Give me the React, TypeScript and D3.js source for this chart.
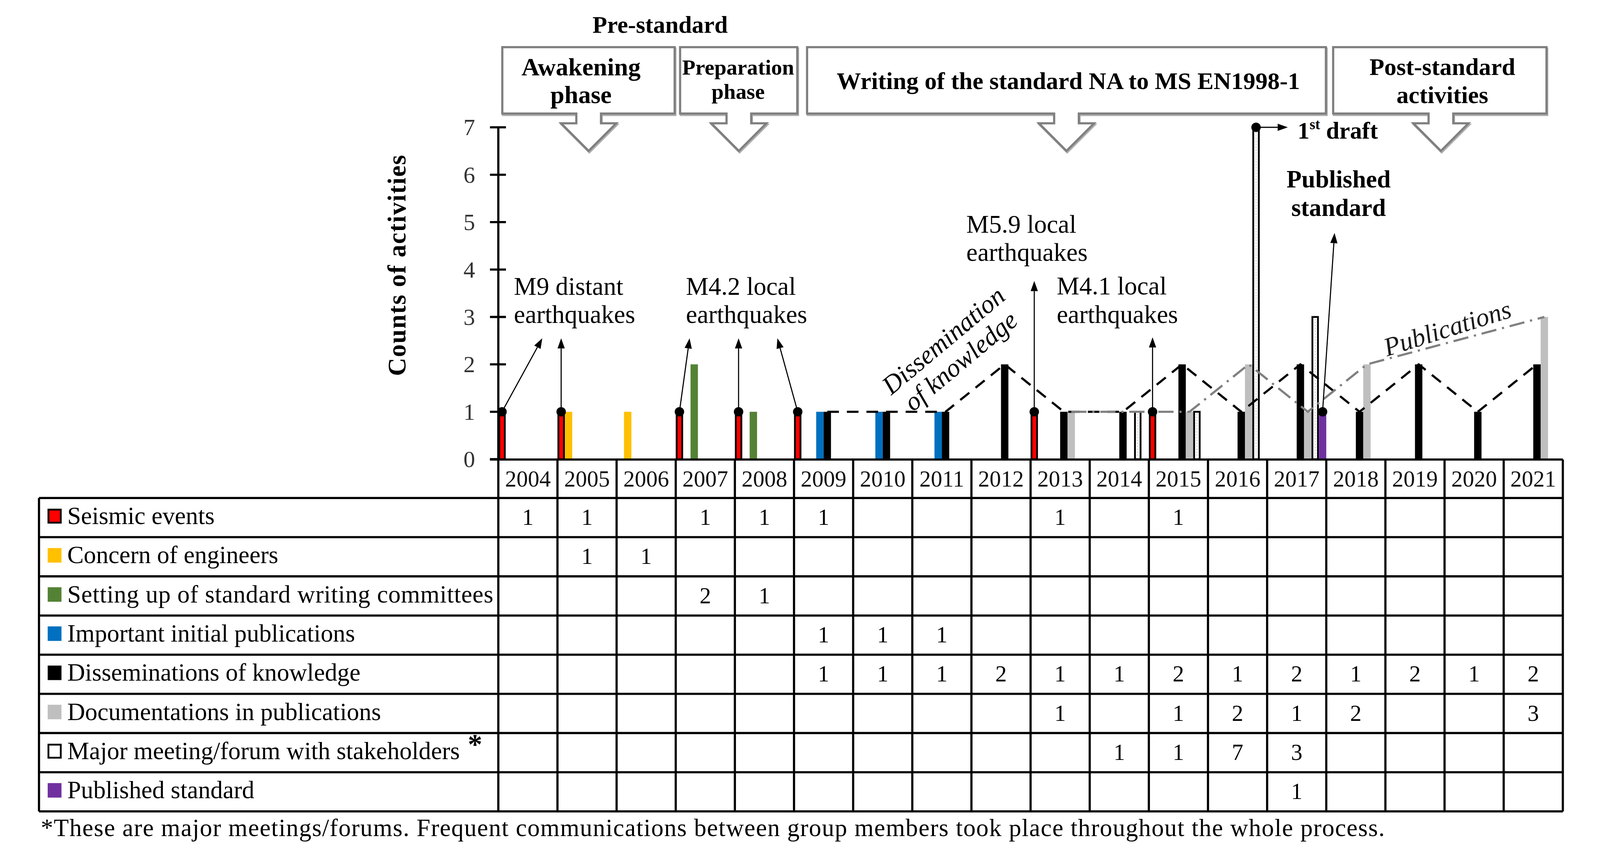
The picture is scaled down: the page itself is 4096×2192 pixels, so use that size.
import * as d3 from 'd3'

const years = ['2004', '2005', '2006', '2007', '2008', '2009', '2010', '2011', '2012', '2013', '2014', '2015', '2016', '2017', '2018', '2019', '2020', '2021']

const seriesKeys = ['seismic', 'concern', 'setting', 'important', 'dissem', 'docs', 'meeting', 'published']
const seriesLabels = [
  'Seismic events',
  'Concern of engineers',
  'Setting up of standard writing committees',
  'Important initial publications',
  'Disseminations of knowledge',
  'Documentations in publications',
  'Major meeting/forum with stakeholders',
  'Published standard',
]
const seriesColors = ['#ff0000', '#ffc000', '#548235', '#0070c0', '#000000', '#bfbfbf', '#ffffff', '#7030a0']

// counts per year, 2004..2021 (0 = empty cell)
const seismic = [1, 1, 0, 1, 1, 1, 0, 0, 0, 1, 0, 1, 0, 0, 0, 0, 0, 0]
const concern = [0, 1, 1, 0, 0, 0, 0, 0, 0, 0, 0, 0, 0, 0, 0, 0, 0, 0]
const setting = [0, 0, 0, 2, 1, 0, 0, 0, 0, 0, 0, 0, 0, 0, 0, 0, 0, 0]
const important = [0, 0, 0, 0, 0, 1, 1, 1, 0, 0, 0, 0, 0, 0, 0, 0, 0, 0]
const dissem = [0, 0, 0, 0, 0, 1, 1, 1, 2, 1, 1, 2, 1, 2, 1, 2, 1, 2]
const docs = [0, 0, 0, 0, 0, 0, 0, 0, 0, 1, 0, 1, 2, 1, 2, 0, 0, 3]
const meeting = [0, 0, 0, 0, 0, 0, 0, 0, 0, 0, 1, 1, 7, 3, 0, 0, 0, 0]
const published = [0, 0, 0, 0, 0, 0, 0, 0, 0, 0, 0, 0, 0, 1, 0, 0, 0, 0]

const seriesValues = [seismic, concern, setting, important, dissem, docs, meeting, published]

const yTicks = [0, 1, 2, 3, 4, 5, 6, 7]

const FONT = '"Liberation Serif", "Times New Roman", serif'

const W = 4409
const H = 2360
const tableLeft = 107
const labelRight = 1373
const tableRight = 4307
const axisY = 1267
const tableTop = 1373
const rowH = 108

function Arrow({ x1, y1, x2, y2, w = 3 }: { x1: number; y1: number; x2: number; y2: number; w?: number }) {
  const a = Math.atan2(y2 - y1, x2 - x1)
  const L = 28
  const hw = 10
  const bx = x2 - L * Math.cos(a)
  const by = y2 - L * Math.sin(a)
  const px = -Math.sin(a) * hw
  const py = Math.cos(a) * hw
  return (
    <g>
      <line x1={x1} y1={y1} x2={bx} y2={by} stroke="#000" strokeWidth={w} />
      <polygon points={`${x2},${y2} ${bx + px},${by + py} ${bx - px},${by - py}`} fill="#000" />
    </g>
  )
}

function Callout({ x0, x1, cx }: { x0: number; x1: number; cx: number }) {
  const y0 = 130
  const y1 = 313
  const hy = 340
  const ty = 416
  const sw = 34
  const hw = 76
  const d = `M${x0},${y0} H${x1} V${y1} H${cx + sw} V${hy} H${cx + hw} L${cx},${ty} L${cx - hw},${hy} H${cx - sw} V${y1} H${x0} Z`
  return (
    <g>
      <path d={d} transform="translate(2,4)" fill="none" stroke="#b0b0b0" strokeWidth={6} />
      <path d={d} fill="#fff" stroke="#7f7f7f" strokeWidth={6} />
    </g>
  )
}

export default function App() {
  const x = d3.scaleBand<string>().domain(years).range([labelRight, tableRight]).padding(0)
  const inner = d3.scaleBand<string>().domain(seriesKeys).range([0, x.bandwidth()]).padding(0)
  const y = d3.scaleLinear().domain([0, 7]).range([1266, 351])
  const bw = inner.bandwidth()
  const cx = (yr: string, key: string) => (x(yr) ?? 0) + (inner(key) ?? 0) + bw / 2

  const dissemPts = dissem.map((v, i) => ({ v, i })).filter((d) => d.v > 0)
  const docsPts = docs.map((v, i) => ({ v, i })).filter((d) => d.v > 0)
  const ptLine = (key: string) =>
    d3
      .line<{ v: number; i: number }>()
      .x((d) => cx(years[d.i], key))
      .y((d) => y(d.v))

  // seismic annotation arrows: x offset of tip, tip value on y scale
  const seismicArrows = [
    { yr: '2004', dx: 111, tip: 2.55 },
    { yr: '2005', dx: 0, tip: 2.55 },
    { yr: '2007', dx: 28, tip: 2.55 },
    { yr: '2008', dx: 0, tip: 2.55 },
    { yr: '2009', dx: -56, tip: 2.55 },
    { yr: '2013', dx: 0, tip: 3.76 },
    { yr: '2015', dx: 0, tip: 2.57 },
  ]

  const rowY = (i: number) => tableTop + i * rowH

  return (
    <svg
      width={4096}
      height={2192}
      viewBox={`0 0 ${W} ${H}`}
      style={{ position: 'absolute', left: 0, top: 0, background: '#fff' }}
      fontFamily={FONT}
    >
      <rect x={0} y={0} width={W} height={H} fill="#fff" />

      {/* phase callouts */}
      <text x={1819} y={90} fontSize={66} fontWeight="bold" textAnchor="middle">Pre-standard</text>
      <Callout x0={1384} x1={1859} cx={1622} />
      <Callout x0={1874} x1={2197} cx={2036} />
      <Callout x0={2224} x1={3654} cx={2939} />
      <Callout x0={3674} x1={4262} cx={3971} />
      <g fontWeight="bold" textAnchor="middle">
        <text x={1601} y={208} fontSize={69}>Awakening</text>
        <text x={1601} y={284} fontSize={69}>phase</text>
        <text x={2034} y={206} fontSize={60}>Preparation</text>
        <text x={2034} y={272} fontSize={60}>phase</text>
        <text x={2944} y={245} fontSize={67}>Writing of the standard NA to MS EN1998-1</text>
        <text x={3975} y={207} fontSize={67}>Post-standard</text>
        <text x={3975} y={284} fontSize={67}>activities</text>
      </g>

      {/* y axis */}
      <line x1={labelRight} y1={y(7)} x2={labelRight} y2={axisY} stroke="#000" strokeWidth={6} />
      {yTicks.map((t) => (
        <g key={t}>
          <line x1={1350} x2={1394} y1={y(t)} y2={y(t)} stroke="#000" strokeWidth={6} />
          <text x={1293} y={y(t) + 22} fontSize={64} textAnchor="middle" fill="#333">{t}</text>
        </g>
      ))}
      <text
        transform={`translate(1117,731) rotate(-90)`}
        fontSize={70}
        fontWeight="bold"
        letterSpacing={2}
        textAnchor="middle"
      >
        Counts of activities
      </text>

      {/* bars */}
      {seriesKeys.map((key, si) =>
        seriesValues[si].map((v, i) => {
          if (!v) return null
          const bx = (x(years[i]) ?? 0) + (inner(key) ?? 0)
          const outlined = key === 'seismic' || key === 'meeting'
          if (outlined) {
            return (
              <g key={key + i}>
                <rect x={bx + 2.5} y={y(v)} width={bw - 5} height={y(0) - y(v)} fill={seriesColors[si]} stroke="#000" strokeWidth={5} />
                {key === 'meeting' && (
                  <line x1={bx + bw / 2} x2={bx + bw / 2} y1={y(v) + 6} y2={y(0)} stroke="#c8c8c8" strokeWidth={3} strokeDasharray="3 5" />
                )}
              </g>
            )
          }
          return <rect key={key + i} x={bx} y={y(v)} width={bw} height={y(0) - y(v)} fill={seriesColors[si]} />
        })
      )}

      {/* trend lines */}
      <path d={ptLine('dissem')(dissemPts) ?? ''} fill="none" stroke="#000" strokeWidth={6} strokeDasharray="32 22" />
      <path d={ptLine('docs')(docsPts) ?? ''} fill="none" stroke="#808080" strokeWidth={6} strokeDasharray="42 16 6 16" />

      {/* dots and arrows */}
      {seismicArrows.map((a) => {
        const px = cx(a.yr, 'seismic')
        return (
          <g key={a.yr}>
            <Arrow x1={px} y1={y(1)} x2={px + a.dx} y2={y(a.tip)} />
            <circle cx={px} cy={y(1)} r={13} fill="#000" />
          </g>
        )
      })}
      <Arrow x1={cx('2017', 'published')} y1={y(1)} x2={cx('2017', 'published') + 33} y2={y(4.77)} />
      <circle cx={cx('2017', 'published')} cy={y(1)} r={13} fill="#000" />
      <Arrow x1={cx('2016', 'meeting')} y1={y(7)} x2={3549} y2={y(7)} />
      <circle cx={cx('2016', 'meeting')} cy={y(7)} r={13} fill="#000" />

      {/* annotation texts */}
      <g fontSize={70}>
        <text x={1416} y={813}>M9 distant</text>
        <text x={1416} y={890}>earthquakes</text>
        <text x={1890} y={813}>M4.2 local</text>
        <text x={1890} y={890}>earthquakes</text>
        <text x={2663} y={642}>M5.9 local</text>
        <text x={2663} y={719}>earthquakes</text>
        <text x={2912} y={812}>M4.1 local</text>
        <text x={2912} y={890}>earthquakes</text>
      </g>
      <g fontWeight="bold" textAnchor="middle" fontSize={68}>
        <text x={3689} y={517}>Published</text>
        <text x={3689} y={595}>standard</text>
      </g>
      <text x={3576} y={382} fontSize={66} fontWeight="bold">
        1<tspan fontSize={40} dy={-26}>st</tspan>
        <tspan dy={26}> draft</tspan>
      </text>
      <g transform="translate(2626,970) rotate(-40)" fontStyle="italic" fontSize={72} textAnchor="middle">
        <text x={0} y={-17}>Dissemination</text>
        <text x={0} y={57}>of knowledge</text>
      </g>
      <text transform="translate(3996,928) rotate(-17.5)" fontStyle="italic" fontSize={72} textAnchor="middle" fill="#1a1a1a">
        Publications
      </text>

      {/* table */}
      <line x1={1350} x2={tableRight} y1={axisY} y2={axisY} stroke="#000" strokeWidth={6} />
      {d3.range(9).map((i) => (
        <line key={'h' + i} x1={tableLeft} x2={tableRight} y1={rowY(i)} y2={rowY(i)} stroke="#000" strokeWidth={6} />
      ))}
      <line x1={tableLeft} x2={tableLeft} y1={tableTop} y2={rowY(8)} stroke="#000" strokeWidth={6} />
      {years.map((yr) => (
        <line key={'v' + yr} x1={x(yr)} x2={x(yr)} y1={axisY} y2={rowY(8)} stroke="#000" strokeWidth={6} />
      ))}
      <line x1={tableRight} x2={tableRight} y1={axisY} y2={rowY(8)} stroke="#000" strokeWidth={6} />
      {years.map((yr) => (
        <text key={'t' + yr} x={(x(yr) ?? 0) + x.bandwidth() / 2} y={(axisY + tableTop) / 2 + 22} fontSize={63} textAnchor="middle" fill="#111">
          {yr}
        </text>
      ))}
      {seriesLabels.map((label, si) => {
        const cy = rowY(si) + rowH / 2
        const key = seriesKeys[si]
        const outlined = key === 'seismic' || key === 'meeting'
        return (
          <g key={label}>
            {outlined ? (
              <rect x={133} y={cy - 22} width={34} height={36} fill={seriesColors[si]} stroke="#000" strokeWidth={5} />
            ) : (
              <rect x={131} y={cy - 24} width={38} height={40} fill={seriesColors[si]} />
            )}
            <text x={185} y={cy + 18} fontSize={68} letterSpacing={key === 'setting' ? 0.8 : 0}>
              {label}
              {key === 'meeting' && (
                <tspan fontSize={80} fontWeight="bold" dy={-14} dx={22}>*</tspan>
              )}
            </text>
            {seriesValues[si].map((v, i) =>
              v ? (
                <text key={i} x={(x(years[i]) ?? 0) + x.bandwidth() / 2} y={cy + 20} fontSize={63} textAnchor="middle">
                  {v}
                </text>
              ) : null
            )}
          </g>
        )
      })}
      <text x={112} y={2305} fontSize={68} textLength={3704} lengthAdjust="spacing">
        *These are major meetings/forums. Frequent communications between group members took place throughout the whole process.
      </text>
    </svg>
  )
}
